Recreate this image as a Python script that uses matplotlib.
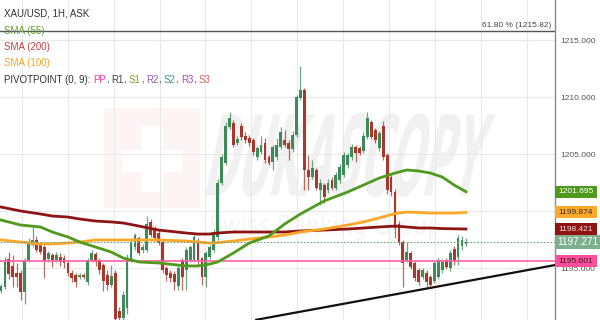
import matplotlib

matplotlib.use("Agg")
import matplotlib.pyplot as plt
import numpy as np
from matplotlib.font_manager import FontProperties
from matplotlib.patches import PathPatch, Rectangle
from matplotlib.textpath import TextPath
from matplotlib.transforms import Affine2D

plt.rcParams["font.family"] = ["Liberation Sans", "DejaVu Sans"]

W, H = 600, 320

# hourly XAU/USD candles
opens = [
    1193.0, 1193.3, 1195.8, 1195.2, 1194.6, 1194.6, 1192.9, 1195.7, 1197.0, 1197.5,
    1197.0, 1196.8, 1195.8, 1196.1, 1195.7, 1196.0, 1195.9, 1195.4, 1194.6, 1194.4,
    1194.2, 1194.4, 1193.8, 1195.7, 1196.2, 1195.7, 1195.3, 1194.4, 1193.5, 1194.6,
    1191.2, 1190.6, 1191.5, 1195.7, 1196.8, 1197.6, 1196.6, 1196.6, 1199.0, 1198.5,
    1198.1, 1197.3, 1195.0, 1194.6, 1194.5, 1193.4, 1195.7, 1194.8, 1195.7, 1195.7,
    1197.3, 1195.9, 1194.2, 1196.0, 1196.6, 1197.7, 1202.5, 1204.2, 1207.4, 1207.7,
    1206.0, 1207.5, 1206.6, 1206.4, 1206.2, 1204.7, 1205.2, 1206.0, 1204.7, 1204.3,
    1204.7, 1205.6, 1206.2, 1206.0, 1205.4, 1206.7, 1209.9, 1210.6, 1203.6, 1203.0,
    1203.6, 1201.8, 1202.3, 1201.8, 1202.7, 1202.0, 1202.7, 1203.2, 1204.0, 1204.7,
    1205.6, 1205.5, 1205.3, 1206.5, 1207.8, 1207.1, 1205.5, 1207.5, 1204.9, 1203.0,
    1201.7, 1198.9, 1197.3, 1195.7, 1196.3, 1195.4, 1194.8, 1194.2, 1194.6, 1194.2,
    1193.9, 1194.2, 1194.8, 1195.7, 1195.0, 1196.7, 1196.0, 1196.9, 1197.1,
]
highs = [
    1193.6, 1196.0, 1196.4, 1196.1, 1195.4, 1194.8, 1195.9, 1197.6, 1198.6, 1197.8,
    1197.3, 1197.0, 1196.5, 1196.3, 1196.4, 1196.3, 1196.1, 1195.6, 1194.8, 1194.6,
    1194.6, 1194.6, 1195.9, 1196.6, 1196.4, 1195.9, 1195.4, 1194.8, 1195.3, 1194.8,
    1191.6, 1193.0, 1196.2, 1197.5, 1198.1, 1197.8, 1197.1, 1199.6, 1199.3, 1198.7,
    1198.3, 1197.5, 1195.2, 1194.8, 1194.7, 1195.3, 1195.9, 1196.8, 1197.0, 1198.0,
    1197.6, 1196.0, 1196.5, 1197.0, 1198.4, 1202.8, 1205.0, 1207.8, 1208.7, 1208.0,
    1206.6, 1207.7, 1206.9, 1206.7, 1206.4, 1205.7, 1206.6, 1206.4, 1204.9, 1205.8,
    1206.4, 1207.4, 1207.1, 1206.2, 1207.0, 1210.2, 1212.7, 1210.8, 1204.9, 1204.5,
    1203.8, 1202.8, 1202.5, 1202.8, 1203.0, 1203.4, 1204.1, 1205.2, 1205.1, 1205.9,
    1205.8, 1205.7, 1206.9, 1208.7, 1208.0, 1207.3, 1207.0, 1207.9, 1205.1, 1203.2,
    1201.9, 1199.1, 1197.5, 1197.3, 1196.5, 1195.6, 1195.0, 1195.0, 1194.8, 1194.4,
    1195.6, 1195.9, 1195.8, 1195.9, 1196.6, 1196.9, 1197.9, 1197.8, 1197.6,
]
lows = [
    1192.8, 1193.2, 1194.0, 1193.3, 1193.3, 1192.2, 1191.8, 1195.5, 1196.8, 1196.4,
    1196.2, 1194.1, 1195.5, 1195.1, 1195.5, 1195.2, 1195.0, 1194.3, 1193.8, 1193.3,
    1194.0, 1194.0, 1193.5, 1195.5, 1195.2, 1194.5, 1193.0, 1193.1, 1193.3, 1190.0,
    1189.9, 1190.2, 1191.0, 1195.5, 1196.6, 1196.1, 1196.3, 1196.4, 1197.7, 1197.4,
    1197.0, 1194.6, 1193.9, 1193.8, 1193.1, 1193.1, 1193.1, 1193.1, 1195.5, 1195.5,
    1195.3, 1193.5, 1193.3, 1195.8, 1196.4, 1197.5, 1202.3, 1204.0, 1207.2, 1205.6,
    1205.8, 1206.2, 1206.0, 1205.7, 1204.9, 1204.5, 1205.0, 1204.2, 1204.0, 1203.6,
    1204.5, 1205.4, 1205.6, 1204.5, 1205.2, 1206.5, 1209.7, 1201.8, 1201.8, 1202.8,
    1201.8, 1200.5, 1200.7, 1201.6, 1201.8, 1201.8, 1202.5, 1203.0, 1203.8, 1204.5,
    1204.3, 1204.9, 1205.1, 1206.3, 1206.3, 1206.0, 1205.3, 1204.5, 1201.5, 1201.3,
    1197.6, 1197.0, 1193.3, 1195.5, 1194.9, 1193.9, 1193.5, 1194.0, 1193.3, 1193.3,
    1193.7, 1194.0, 1194.6, 1194.9, 1194.7, 1195.3, 1195.3, 1196.6, 1196.9,
]
closes = [
    1193.4, 1195.5, 1194.5, 1194.2, 1194.2, 1192.9, 1195.7, 1197.3, 1197.5, 1196.6,
    1196.4, 1195.7, 1196.3, 1195.7, 1196.1, 1195.5, 1195.4, 1194.6, 1194.1, 1193.8,
    1194.4, 1194.2, 1195.7, 1196.3, 1195.5, 1194.8, 1193.9, 1193.5, 1194.3, 1190.5,
    1190.6, 1192.6, 1195.9, 1197.3, 1197.9, 1196.3, 1196.8, 1198.9, 1197.9, 1197.6,
    1197.2, 1194.8, 1194.4, 1194.1, 1193.8, 1195.0, 1194.2, 1196.6, 1196.8, 1197.7,
    1195.7, 1194.2, 1196.3, 1196.8, 1198.2, 1202.5, 1204.7, 1207.5, 1208.2, 1205.8,
    1206.3, 1206.5, 1206.2, 1206.0, 1205.2, 1205.5, 1205.8, 1204.5, 1204.2, 1205.6,
    1205.8, 1206.9, 1205.8, 1205.4, 1206.7, 1210.0, 1210.6, 1203.6, 1203.0, 1203.8,
    1202.0, 1202.5, 1201.2, 1202.5, 1202.0, 1203.2, 1203.9, 1204.9, 1204.9, 1205.6,
    1205.1, 1205.1, 1206.6, 1208.2, 1206.5, 1206.2, 1206.8, 1204.7, 1201.8, 1201.7,
    1198.5, 1197.3, 1195.4, 1196.4, 1195.1, 1194.1, 1193.8, 1194.8, 1193.8, 1193.5,
    1195.4, 1195.7, 1195.5, 1195.1, 1196.3, 1195.7, 1197.6, 1197.5, 1197.3,
]

# moving averages, sampled at these candle positions
sma_idx = [0, 5, 10, 13, 17, 20, 24, 28, 31, 35, 40, 47, 50, 53, 55, 59,
           63, 68, 72, 76, 82, 88, 92, 96, 100, 103, 106, 109, 112, 115, 118]
sma55 = [1199.21, 1198.77, 1198.60, 1198.16, 1197.72, 1197.28, 1196.84, 1196.40,
         1195.88, 1195.53, 1195.44, 1195.18, 1195.18, 1195.35, 1195.53, 1196.32,
         1197.19, 1197.81, 1198.86, 1199.74, 1200.88, 1201.67, 1202.28, 1202.89,
         1203.33, 1203.60, 1203.51, 1203.33, 1202.98, 1202.28, 1201.70]
sma200 = [1200.35, 1200.00, 1199.74, 1199.56, 1199.47, 1199.30, 1199.12, 1199.04,
          1198.95, 1198.68, 1198.33, 1198.07, 1197.98, 1197.98, 1198.07, 1198.16,
          1198.16, 1198.16, 1198.16, 1198.25, 1198.33, 1198.42, 1198.51, 1198.60,
          1198.68, 1198.60, 1198.51, 1198.51, 1198.46, 1198.44, 1198.42]
sma100 = [1197.46, 1197.28, 1197.11, 1197.11, 1197.19, 1197.28, 1197.46, 1197.46,
          1197.46, 1197.46, 1197.46, 1197.37, 1197.28, 1197.19, 1197.23, 1197.37,
          1197.54, 1197.72, 1197.89, 1198.16, 1198.42, 1198.77, 1199.04, 1199.39,
          1199.78, 1199.91, 1199.87, 1199.82, 1199.82, 1199.82, 1199.87]

pivot_pp = 1195.601
last_price = 1197.271
fib_level = 1215.82
trend_idx = [64.5, 140.6]
trend_price = [1190.44, 1195.26]

price_ticks = [1195, 1200, 1205, 1210, 1215]
right_labels = [
    (1201.695, "#4f9a1c", "white"),
    (1199.874, "#ffa726", "#333333"),
    (1198.421, "#8e1414", "#f2dede"),
    (1195.601, "#ff4f9a", "#3a1a28"),
]

UP = "#3f8a5a"
DOWN = "#a8382c"

fig = plt.figure(figsize=(W / 100, H / 100), dpi=100)
fig.patch.set_facecolor("white")
ax = fig.add_axes([0, 0, 555 / W, 1])
ax.set_facecolor("white")

ax.set_xlim(-0.25, 140.6)
ax.set_ylim(1190.44, 1218.51)

for name in ["top", "left", "bottom"]:
    ax.spines[name].set_visible(False)
ax.spines["right"].set_color("#8a8a8a")
ax.spines["right"].set_linewidth(1.0)

# the 1200.000 label sits behind the orange price box, so leave it blank
ax.yaxis.tick_right()
ax.set_yticks(price_ticks)
ax.set_yticklabels(["" if p == 1200 else f"{p:.3f}" for p in price_ticks])
ax.tick_params(axis="y", length=0, pad=4, labelsize=6, labelcolor="#555555")
ax.set_xticks(np.arange(5.3, 140, 11.65))
ax.tick_params(axis="x", length=0, labelbottom=False)
ax.grid(True, color="#e9e9e9", linewidth=0.8)


def pix_transform(x0, y0, sx, sy, skew=0.0):
    # pixel box (y from the top) -> figure coordinates
    return (Affine2D().scale(sx, sy).skew_deg(skew, 0).translate(x0, H - y0)
            .scale(1 / W, 1 / H) + fig.transFigure)


def watermark(text, box, color, weight="bold", skew=0.0):
    tp = TextPath((0, 0), text, size=10,
                  prop=FontProperties(family="DejaVu Sans", weight=weight))
    ext = tp.get_extents()
    x0, y0, x1, y1 = box
    sx = (x1 - x0) / ext.width
    sy = (y1 - y0) / ext.height
    tr = (Affine2D().translate(-ext.x0, -ext.y0) +
          pix_transform(x0, y1, sx, sy, skew))
    patch = PathPatch(tp, transform=tr, facecolor=color, edgecolor="none",
                      zorder=0.4, clip_on=False)
    ax.add_artist(patch)


# faint logo and watermark
for (x0, y0, w, h, c) in [(104, 108, 96, 100, "#fdf5f5"),
                          (122, 150, 60, 22, "white"),
                          (141, 126, 22, 66, "white")]:
    r = Rectangle((x0 / W, 1 - (y0 + h) / H), w / W, h / H,
                  transform=fig.transFigure, facecolor=c, edgecolor="none",
                  zorder=0.35 if c != "white" else 0.38, clip_on=False)
    ax.add_artist(r)
watermark("DUKASCOPY", (205, 113, 478, 197), "#f1f1f1", skew=12)
watermark("Swiss Banking Group", (210, 214, 440, 240), "#f5f5f5", weight="normal")

# candles
idx = np.arange(len(closes))
o = np.array(opens)
c = np.array(closes)
colors = [UP if cc >= oo else DOWN for oo, cc in zip(o, c)]
ax.vlines(idx, lows, highs, colors=colors, linewidth=0.9, alpha=0.75, zorder=2.8)
bottoms = np.minimum(o, c)
heights = np.maximum(np.abs(c - o), 0.08)
ax.bar(idx, heights, bottom=bottoms, width=0.72, color=colors, linewidth=0, zorder=3)

# overlays
ax.plot(sma_idx, sma200, color="#8e1414", linewidth=2.0, zorder=4)
ax.plot(sma_idx, sma100, color="#ffa726", linewidth=2.0, zorder=4)
ax.plot(sma_idx, sma55, color="#4f9a1c", linewidth=2.0, zorder=4.1)
ax.axhline(pivot_pp, color="#ff5fa5", linewidth=1.2, zorder=4)
ax.axhline(last_price, color="#6aa87a", linewidth=0.8, linestyle=(0, (1.5, 1.5)),
           zorder=4)
ax.axhline(fib_level, color="#555555", linewidth=1.0, zorder=4)
ax.plot(trend_idx, trend_price, color="#111111", linewidth=1.6, zorder=5,
        solid_capstyle="butt")
ax.text(551 / 555, fib_level + 0.12, "61.80 % (1215.82)", transform=ax.get_yaxis_transform(),
        ha="right", va="bottom", fontsize=6, color="#444444", zorder=6)

# price boxes on the right axis
ytr = ax.get_yaxis_transform()
for price, bg, fg in right_labels:
    box_h = 12 / 11.4
    ax.add_artist(Rectangle((1.0, price - box_h / 2), 42 / 555, box_h, transform=ytr,
                            facecolor=bg, edgecolor="none", clip_on=False, zorder=10))
    ax.text(1.0 + 21 / 555, price, f"{price:.3f}", transform=ytr, ha="center",
            va="center", fontsize=6, color=fg, clip_on=False, zorder=11)
box_h = 14 / 11.4
ax.add_artist(Rectangle((1.0, last_price - box_h / 2), 45 / 555, box_h, transform=ytr,
                        facecolor="#7daf8c", edgecolor="none", clip_on=False, zorder=10))
ax.text(1.0 + 22.5 / 555, last_price, f"{last_price:.3f}", transform=ytr, ha="center",
        va="center", fontsize=7.2, color="white", clip_on=False, zorder=11)

# legend in the top-left corner
legend_rows = [
    ("XAU/USD, 1H, ASK", "#333333", 13),
    ("SMA (55)", "#5a9e2a", 31),
    ("SMA (200)", "#c94040", 47),
    ("SMA (100)", "#f5a623", 63),
]
for text, color, ypx in legend_rows:
    fig.text(4 / W, 1 - ypx / H, text, ha="left", va="center", fontsize=7, color=color)

pivot_names = ["PP", "R1", "S1", "R2", "S2", "R3", "S3"]
pivot_colors = ["#ff3399", "#444444", "#8a9a32", "#9b59b6", "#3a9494", "#9b4fb0", "#e0605e"]
renderer = fig.canvas.get_renderer()
space = 2.7
ypiv = 1 - 80 / H


def put(x, text, color):
    t = fig.text(x / W, ypiv, text, ha="left", va="center", fontsize=7, color=color)
    return t.get_window_extent(renderer).x1


x = put(4, "PIVOTPOINT (0, 9):", "#333333") + space
for k, (name, col) in enumerate(zip(pivot_names, pivot_colors)):
    x = put(x, name, col)
    if k < len(pivot_names) - 1:
        x = put(x, ",", "#333333") + space

fig.savefig("out.png", dpi=100, facecolor="white")
